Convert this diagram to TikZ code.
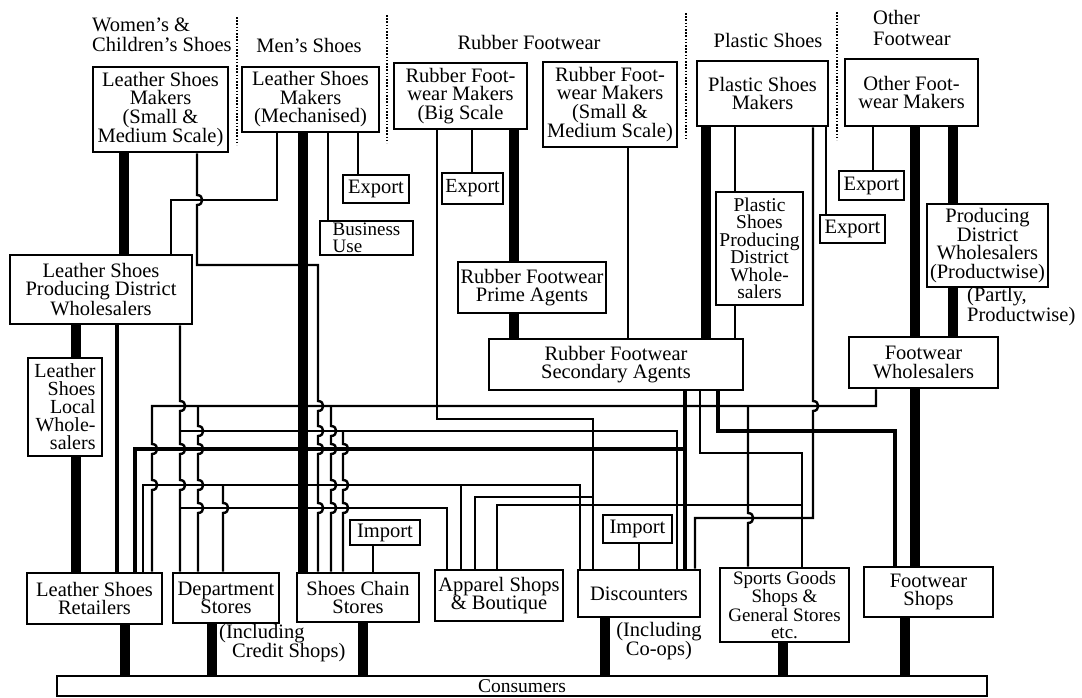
\documentclass[tikz,border=0pt]{standalone}
\usepackage{fontspec}
\setmainfont{Liberation Serif}
\begin{document}
\begin{tikzpicture}[x=1pt,y=-1pt,
  box/.style={draw, line width=2.6pt, inner sep=0.5pt, align=center, fill=white,
              font=\fontsize{20.5}{18.5}\selectfont},
  lbl/.style={inner sep=0pt, align=center, font=\fontsize{20.5}{19.5}\selectfont},
  hdr/.style={inner sep=0pt, align=left, font=\fontsize{20.5}{20.5}\selectfont},
  thn/.style={line width=2.4pt},
  med/.style={line width=4.8pt},
  thk/.style={line width=9.5pt},
  sep/.style={line width=2.6pt, dash pattern=on 1.6pt off 1.6pt},
]
\fill[white] (0,0) rectangle (1082,697);
\useasboundingbox (0,0) rectangle (1082,697);

% ---------- headers ----------
\node[hdr, anchor=west] (hWomen) at (92,35) {Women's \&\\Children's Shoes};
\node[hdr] (hMen) at (309,45) {Men's Shoes};
\node[hdr] (hRub) at (529,42) {Rubber Footwear};
\node[hdr] (hPla) at (768,40) {Plastic Shoes};
\node[hdr, anchor=west] (hOth) at (873,28) {Other\\Footwear};
\draw[sep] (237,17) -- (237,145);
\draw[sep] (387,15) -- (387,143);
\draw[sep] (686,13) -- (686,140);
\draw[sep] (837,12) -- (837,140);

% ---------- boxes ----------
\node[box, minimum width=135, minimum height=85] (B1) at (160.5,109.5) {Leather Shoes\\Makers\\(Small \&\\Medium Scale)};
\node[box, minimum width=137, minimum height=65] (B2) at (310.5,99.5) {Leather Shoes\\Makers\\(Mechanised)};
\node[box, minimum width=133, minimum height=66] (B3) at (460.5,96) {Rubber Foot-\\wear Makers\\(Big Scale};
\node[box, minimum width=134, minimum height=85] (B4) at (610,104.5) {Rubber Foot-\\wear Makers\\(Small \&\\Medium Scale)};
\node[box, minimum width=131, minimum height=65] (B5) at (762.5,93.5) {Plastic Shoes\\Makers};
\node[box, minimum width=133, minimum height=67] (B6) at (911.5,92.5) {Other Foot-\\wear Makers};

\node[box, minimum width=66, minimum height=28] (E1) at (376,189) {Export};
\node[box, minimum width=93, minimum height=34, align=left, font=\fontsize{19}{17}\selectfont] (BU) at (366.5,238) {Business\\Use};
\node[box, minimum width=61, minimum height=31, font=\fontsize{20}{18}\selectfont] (E2) at (472.5,188.5) {Export};
\node[box, minimum width=148, minimum height=51] (PA) at (532,287.5) {Rubber Footwear\\Prime Agents};
\node[box, minimum width=254, minimum height=51] (SA) at (616,364.5) {Rubber Footwear\\Secondary Agents};
\node[box, minimum width=87, minimum height=113, font=\fontsize{19.5}{17.5}\selectfont] (PS) at (759.5,248.5) {Plastic\\Shoes\\Producing\\District\\Whole-\\salers};
\node[box, minimum width=65, minimum height=28] (E3) at (852.5,229) {Export};
\node[box, minimum width=65, minimum height=29] (E4) at (871.5,185.5) {Export};
\node[box, minimum width=121, minimum height=83] (PDW) at (987.5,245.5) {Producing\\District\\Wholesalers\\(Productwise)};
\node[lbl, align=left, anchor=north west, font=\fontsize{20.5}{18}\selectfont] (PP) at (967,287) {(Partly,\\Productwise)};
\node[box, minimum width=149, minimum height=51] (FW) at (923.5,362.5) {Footwear\\Wholesalers};
\node[box, minimum width=182, minimum height=69] (LPD) at (101,289.5) {Leather Shoes\\Producing District\\Wholesalers};
\node[box, minimum width=74, minimum height=98, align=right, font=\fontsize{20}{18}\selectfont] (LLW) at (65,407) {Leather\\Shoes\\Local\\Whole-\\salers};

\node[box, minimum width=135, minimum height=51] (LSR) at (94.5,598.5) {Leather Shoes\\Retailers};
\node[box, minimum width=106, minimum height=50] (DS) at (226,598) {Department\\Stores};
\node[box, minimum width=122, minimum height=49] (SC) at (358,597.5) {Shoes Chain\\Stores};
\node[box, minimum width=70, minimum height=25] (I1) at (385,532.5) {Import};
\node[box, minimum width=128, minimum height=51] (AP) at (499,595.5) {Apparel Shops\\\& Boutique};
\node[box, minimum width=122, minimum height=47] (DC) at (639,593.5) {Discounters};
\node[box, minimum width=69, minimum height=28] (I2) at (637.5,529) {Import};
\node[box, minimum width=129, minimum height=74, font=\fontsize{19}{17}\selectfont] (SG) at (784.5,605) {Sports Goods\\Shops \&\\General Stores\\etc.};
\node[box, minimum width=129, minimum height=50] (FS) at (928.5,592) {Footwear\\Shops};
\node[lbl, anchor=west, align=left] (CS) at (219,643) {(Including\\\hspace*{13pt}Credit Shops)};
\node[lbl] (CO) at (659,641) {(Including\\Co-ops)};
\node[box, minimum width=930, minimum height=20, inner sep=0pt, font=\fontsize{19.5}{19.5}\selectfont] (CN) at (522,686) {Consumers};

% ---------- thick flows ----------
\draw[thk] (B1.south -| 124,0) -- (LPD.north -| 124,0);
\draw[thk] (LPD.south -| 76,0) -- (LLW.north -| 76,0);
\draw[thk] (LLW.south -| 76,0) -- (LSR.north -| 76,0);
\draw[thk] (B2.south -| 303,0) -- (SC.north -| 303,0);
\draw[thk] (B3.south -| 514,0) -- (PA.north -| 514,0);
\draw[thk] (PA.south -| 514,0) -- (SA.north -| 514,0);
\draw[thk] (B5.south -| 706,0) -- (SA.north -| 706,0);
\draw[thk] (B6.south -| 915,0) -- (FW.north -| 915,0);
\draw[thk] (FW.south -| 915,0) -- (FS.north -| 915,0);
\draw[thk] (B6.south -| 953,0) -- (PDW.north -| 953,0);
\draw[thk] (PDW.south -| 953,0) -- (FW.north -| 953,0);
\draw[thk] (LSR.south -| 125,0) -- (CN.north -| 125,0);
\draw[thk] (DS.south -| 212,0) -- (CN.north -| 212,0);
\draw[thk] (SC.south -| 363,0) -- (CN.north -| 363,0);
\draw[thk] (DC.south -| 605,0) -- (CN.north -| 605,0);
\draw[thk] (SG.south -| 783,0) -- (CN.north -| 783,0);
\draw[thk] (FS.south -| 905,0) -- (CN.north -| 905,0);

% ---------- medium flows ----------
\draw[med] (LPD.south -| 117,0) -- (LSR.north -| 117,0);
\draw[med] (SA.south -| 685,0) -- (DC.north -| 685,0);
\draw[med] (685,449) -- (135,449) -- (LSR.north -| 135,0);
\draw[med] (SA.south -| 718,0) -- (718,431) -- (895,431) -- (FS.north -| 895,0);

% ---------- simple thin links ----------
\draw[thn] (B2.south -| 358,0) -- (E1.north -| 358,0);
\draw[thn] (B2.south -| 328,0) -- (BU.north -| 328,0);
\draw[thn] (B3.south -| 472,0) -- (E2.north -| 472,0);
\draw[thn] (B4.south -| 628,0) -- (SA.north -| 628,0);
\draw[thn] (B5.south -| 735,0) -- (PS.north -| 735,0);
\draw[thn] (PS.south -| 735,0) -- (SA.north -| 735,0);
\draw[thn] (B5.south -| 826,0) -- (E3.north -| 826,0);
\draw[thn] (B6.south -| 873,0) -- (E4.north -| 873,0);
\draw[thn] (I1.south -| 373,0) -- (SC.north -| 373,0);
\draw[thn] (I2.south -| 639,0) -- (DC.north -| 639,0);

% ---------- routed thin links ----------
% mechanised makers -> producing district wholesalers
\draw[thn] (B2.south -| 277,0) -- (277,200) -- (171,200) -- (LPD.north -| 171,0);
% small leather makers -> chain stores (and branch at y=485)
\draw[thn] (B1.south -| 197,0)
  foreach \y in {200} { -- (197,\y-5) .. controls (204,\y-5) and (204,\y+5) .. (197,\y+5) }
  -- (197,265) -- (318,265)
  foreach \y in {406,431,449,508} { -- (318,\y-5) .. controls (325,\y-5) and (325,\y+5) .. (318,\y+5) }
  -- (SC.north -| 318,0);
\draw[thn] (LSR.north -| 143,0) -- (143,485) -- (580,485) -- (DC.north -| 580,0);
\draw[thn] (223,485) foreach \y in {508} { -- (223,\y-5) .. controls (230,\y-5) and (230,\y+5) .. (223,\y+5) } -- (DS.north -| 223,0);
\draw[thn] (461,485) -- (AP.north -| 461,0);
% leather producing district wholesalers -> dept stores, chain, discounters, apparel
\draw[thn] (LPD.south -| 180,0)
  foreach \y in {406,449,485} { -- (180,\y-5) .. controls (187,\y-5) and (187,\y+5) .. (180,\y+5) }
  -- (DS.north -| 180,0);
\draw[thn] (180,431) -- (677,431) -- (DC.north -| 677,0);
\draw[thn] (343,431)
  foreach \y in {449,485,508} { -- (343,\y-5) .. controls (350,\y-5) and (350,\y+5) .. (343,\y+5) }
  -- (SC.north -| 343,0);
\draw[thn] (180,508) -- (447,508) -- (AP.north -| 447,0);
% footwear wholesalers -> retailers
\draw[thn] (FW.south -| 876,0) -- (876,406) -- (152,406)
  foreach \y in {449,485} { -- (152,\y-5) .. controls (159,\y-5) and (159,\y+5) .. (152,\y+5) }
  -- (LSR.north -| 152,0);
\draw[thn] (198,406)
  foreach \y in {431,449,485,508} { -- (198,\y-5) .. controls (205,\y-5) and (205,\y+5) .. (198,\y+5) }
  -- (DS.north -| 198,0);
\draw[thn] (331,406)
  foreach \y in {431,449,485,508} { -- (331,\y-5) .. controls (338,\y-5) and (338,\y+5) .. (331,\y+5) }
  -- (SC.north -| 331,0);
\draw[thn] (748,406)
  foreach \y in {518} { -- (748,\y-5) .. controls (755,\y-5) and (755,\y+5) .. (748,\y+5) }
  -- (SG.north -| 748,0);
% rubber big scale makers -> discounters, apparel
\draw[thn] (B3.south -| 437,0) -- (437,419) -- (593,419) -- (DC.north -| 593,0);
\draw[thn] (593,497) -- (475,497) -- (AP.north -| 475,0);
% secondary agents -> sports goods, apparel
\draw[thn] (SA.south -| 700,0) -- (700,453) -- (802,453) -- (SG.north -| 802,0);
\draw[thn] (802,505) -- (497,505) -- (AP.north -| 497,0);
% plastic shoes makers -> discounters
\draw[thn] (B5.south -| 813,0)
  foreach \y in {406} { -- (813,\y-5) .. controls (820,\y-5) and (820,\y+5) .. (813,\y+5) }
  -- (813,518) -- (695,518) -- (DC.north -| 695,0);
\end{tikzpicture}
\end{document}
